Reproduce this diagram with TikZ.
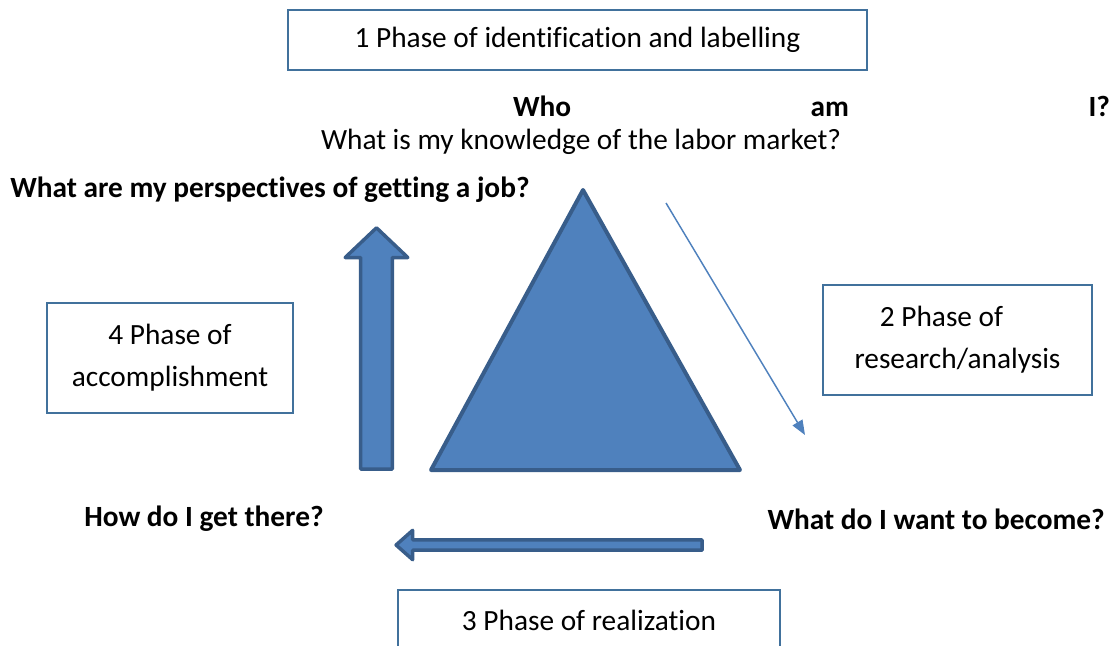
\documentclass[tikz,border=0pt]{standalone}
\usepackage{fontspec}
\setmainfont{Carlito}[Ligatures=NoCommon]
\usetikzlibrary{arrows.meta,positioning,shapes.arrows}
\definecolor{tri}{HTML}{4F81BD}
\definecolor{triedge}{HTML}{385D8A}
\definecolor{boxedge}{HTML}{41719C}

\begin{document}
\begin{tikzpicture}[
x=0.75pt, y=-0.75pt,
phase/.style={draw=boxedge, line width=0.8pt, align=center, inner sep=0pt, font=\fontsize{22}{31.5}\selectfont},
question/.style={inner sep=0pt, font=\fontsize{22}{26}\selectfont\bfseries},
plain/.style={inner sep=0pt, font=\fontsize{22}{26}\selectfont},
blockarrow/.style={single arrow, fill=tri, draw=triedge, line width=2.6pt, line join=round, single arrow head indent=0pt},
thinarrow/.style={-{Triangle[length=11pt, width=8.5pt]}, line width=1.1pt, draw=tri}
]
\clip (0,0) rectangle (1114,646);
\node[phase, minimum width=434.25pt, minimum height=45pt] (ident) at (577.5,40) {1 Phase of identification and labelling};
\node[question, text width=447.75pt, align=left] (who) at (811.5,106) {Who\hfill am\hfill I?};
\node[plain] (market) at (581,142) {What is my knowledge of the labor market?};
\node[question, anchor=west] (persp) at (10,190) {What are my perspectives of getting a job?};
\node[phase, minimum width=201.75pt, minimum height=82.5pt] (research) at (957.5,340) {2 Phase of\hspace*{24pt}\\research/analysis};
\node[phase, minimum width=184.5pt, minimum height=82.5pt] (accomp) at (170,358) {4 Phase of\\accomplishment};
\node[question, anchor=west] (how) at (84,519) {How do I get there?};
\node[question, anchor=east] (become) at (1105,519) {What do I want to become?};
\node[phase, minimum width=286.5pt, minimum height=45pt] (real) at (589,620) {3 Phase of realization};

\draw[fill=tri, draw=triedge, line width=3pt, line join=round] (583,190) -- (740,470) -- (431,470) -- cycle;

\node[blockarrow, rotate=90, minimum height=181pt, minimum width=47pt, inner sep=6pt, single arrow tip angle=93] (up) at (376.5,356) {};
\node[blockarrow, rotate=180, minimum height=229.5pt, minimum width=12pt, inner sep=2.6pt, single arrow tip angle=83] (back) at (552,545) {};

\coordinate (from) at (666,203);
\coordinate (to) at (805,435);
\draw[thinarrow] (from) -- (to);
\end{tikzpicture}
\end{document}
